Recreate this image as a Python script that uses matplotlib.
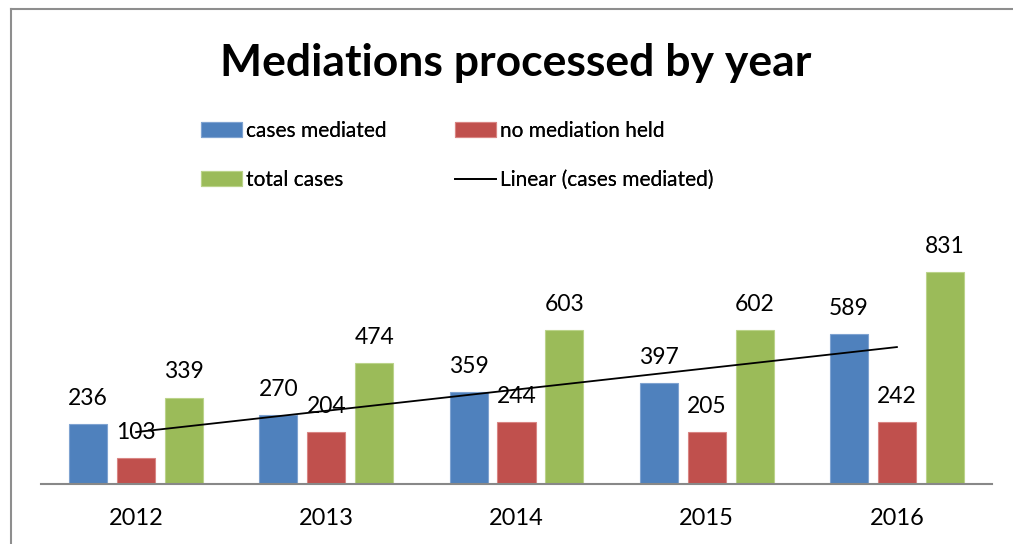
import matplotlib
matplotlib.use("Agg")
import matplotlib.pyplot as plt
import numpy as np
from matplotlib.lines import Line2D

years = ["2012", "2013", "2014", "2015", "2016"]
cases_mediated = [236, 270, 359, 397, 589]
no_mediation_held = [103, 204, 244, 205, 242]
total_cases = [339, 474, 603, 602, 831]

series_names = ["cases mediated", "no mediation held", "total cases"]
colors = ["#4F81BD", "#C0504D", "#9BBB59"]
edge_colors = ["#7FA3D1", "#D98583", "#BBD38A"]

plt.rcParams['font.family'] = ['Lato', 'DejaVu Sans']

W, H = 1013, 544
fig = plt.figure(figsize=(W / 100, H / 100), dpi=100)

ax_left, ax_right, ax_bottom = 41, 992, 484
ymax = 900
px_per_unit = 0.2551
ax_top = ax_bottom - ymax * px_per_unit
ax = fig.add_axes([ax_left / W, 1 - ax_bottom / H, (ax_right - ax_left) / W, (ax_bottom - ax_top) / H])

x = np.arange(len(years))
width = 0.2
offsets = [-0.252, 0.0, 0.252]
bars = []
for vals, off, c, ec, name in zip([cases_mediated, no_mediation_held, total_cases], offsets, colors, edge_colors, series_names):
    b = ax.bar(x + off, vals, width, color=c, edgecolor=ec, linewidth=0.8, label=name, zorder=2)
    bars.append(b)

# linear trend for cases mediated
xs = np.arange(1, len(years) + 1)
slope, intercept = np.polyfit(xs, cases_mediated, 1)
trend = slope * xs + intercept
line, = ax.plot(x, trend, color="black", linewidth=1.3, zorder=3, label="Linear (cases mediated)")

# data labels
for b, vals in zip(bars, [cases_mediated, no_mediation_held, total_cases]):
    for rect, v in zip(b, vals):
        ax.annotate(f"{v}", xy=(rect.get_x() + rect.get_width() / 2, v), xytext=(0, 13.7),
                    textcoords="offset points", ha="center", va="baseline", fontsize=16.5, zorder=4)

ax.set_xlim(-0.5, len(years) - 0.5)
ax.set_ylim(0, ymax)
ax.set_xticks(x)
ax.set_xticklabels(years, fontsize=17)
ax.tick_params(axis="x", length=0, pad=17)
ax.set_yticks([])
for s in ["top", "right", "left"]:
    ax.spines[s].set_visible(False)
ax.spines["bottom"].set_color("#888888")
ax.spines["bottom"].set_linewidth(1.5)
ax.patch.set_alpha(0)

# title
fig.text(516 / W, 1 - 76 / H, "Mediations processed by year", ha="center", va="baseline",
         fontsize=32, fontweight="bold")

# legend: one entry per legend so each is placed on a 2x2 grid
fs = 15
em = fs * 100 / 72
entries = [(bars[0], "cases mediated", 201, 131),
           (bars[1], "no mediation held", 455, 131),
           (bars[2], "total cases", 201, 180),
           (line, "Linear (cases mediated)", 455, 180)]
for h, lab, px, py in entries:
    leg = fig.legend([h], [lab], frameon=False, fontsize=fs,
                     loc="center left", bbox_to_anchor=(px / W, 1 - py / H),
                     handlelength=41 / em, handleheight=15 / em, handletextpad=0.2,
                     borderaxespad=0, borderpad=0)
    fig.add_artist(leg)

# chart border (partially visible)
fig.add_artist(Line2D([11 / W, 11 / W], [0, 1 - 9 / H], transform=fig.transFigure, color="#8E8E8E", linewidth=1.5))
fig.add_artist(Line2D([11 / W, 1], [1 - 9 / H, 1 - 9 / H], transform=fig.transFigure, color="#8E8E8E", linewidth=1.5))

fig.savefig("out.png", dpi=100)
